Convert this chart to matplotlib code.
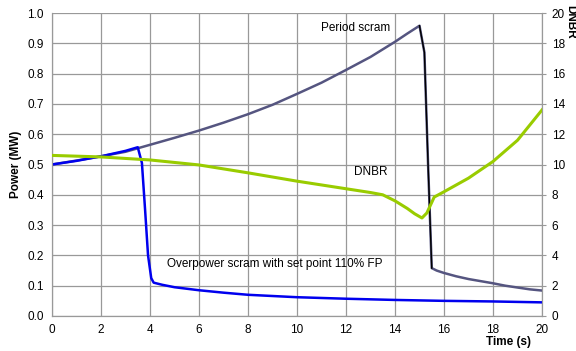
import matplotlib
matplotlib.use("Agg")
import matplotlib.pyplot as plt

plt.rcParams['font.family'] = ['Liberation Sans', 'DejaVu Sans']

# Period scram power (MW)
t_period = [0, 1, 2, 3, 4, 5, 6, 7, 8, 9, 10, 11, 12, 13, 14, 14.5, 15.0, 15.2, 15.35, 15.5, 15.7, 16, 16.5, 17, 17.5, 18, 18.5, 19, 19.5, 20]
p_period = [0.500, 0.513, 0.527, 0.542, 0.565, 0.588, 0.612, 0.638, 0.666, 0.697, 0.733, 0.770, 0.812, 0.855, 0.905, 0.932, 0.958, 0.870, 0.500, 0.158, 0.150, 0.142, 0.131, 0.122, 0.115, 0.108, 0.100, 0.094, 0.088, 0.084]

# Overpower scram power (MW)
t_over = [0, 1, 2, 3, 3.5, 3.67, 3.8, 3.92, 4.05, 4.15, 4.5, 5, 6, 7, 8, 10, 12, 14, 16, 18, 20]
p_over = [0.500, 0.512, 0.527, 0.545, 0.557, 0.505, 0.350, 0.200, 0.125, 0.110, 0.103, 0.095, 0.085, 0.077, 0.070, 0.062, 0.057, 0.053, 0.050, 0.048, 0.045]

# DNBR
t_dnbr = [0, 1, 2, 3, 4, 6, 8, 10, 12, 13, 13.5, 14, 14.5, 14.8, 15.1, 15.3, 15.6, 16, 17, 18, 19, 20]
dnbr = [10.6, 10.55, 10.5, 10.4, 10.3, 9.97, 9.45, 8.9, 8.4, 8.15, 8.0, 7.6, 7.1, 6.75, 6.47, 6.8, 7.85, 8.2, 9.1, 10.2, 11.6, 13.6]

fig = plt.figure(figsize=(5.76, 3.51), dpi=100)
ax = fig.add_axes([52/576, 1-316/351, (542-52)/576, (316-13)/351])
ax2 = ax.twinx()

grid_c = '#999999'
ax.set_xlim(0, 20)
ax.set_ylim(0, 1.0)
ax2.set_ylim(0, 20)
ax.set_xticks(range(0, 21, 2))
ax.set_yticks([i/10 for i in range(11)])
ax.set_yticklabels([f"{i/10:.1f}" for i in range(11)])
ax2.set_yticks(range(0, 21, 2))
ax.grid(True, color=grid_c, linewidth=0.9)
ax.set_axisbelow(True)

for a in (ax, ax2):
    for s in a.spines.values():
        s.set_color(grid_c)
    a.spines['top'].set_visible(False)
    a.tick_params(labelsize=8.5, colors='black')
ax.tick_params(axis='both', length=0, pad=6)
ax2.tick_params(axis='y', length=3, color=grid_c, direction='out', pad=4)

ax.plot(t_period, p_period, color='#555580', lw=1.8, zorder=3)
ax.plot(t_period[16:20], p_period[16:20], color='black', lw=1.0, zorder=4)
ax.plot(t_over, p_over, color='#0000ee', lw=1.8, zorder=3)
ax2.plot(t_dnbr, dnbr, color='#99cc00', lw=2.2, zorder=3)

ax.text(12.4, 0.95, "Period scram", fontsize=8.5, ha='center', va='center')
ax.text(13.0, 0.475, "DNBR", fontsize=8.5, ha='center', va='center')
ax.text(4.7, 0.17, "Overpower scram with set point 110% FP", fontsize=8.5, ha='left', va='center')

ax.set_ylabel("Power (MW)", fontsize=8.5, fontweight='bold', labelpad=4)
fig.text(508/576, 1-342/351, "Time (s)", fontsize=8.5, fontweight='bold', ha='center', va='center')
fig.text(570/576, 1-22/351, "DNBR", fontsize=8.5, fontweight='bold', ha='center', va='center', rotation=270)

fig.savefig("out.png", dpi=100)
